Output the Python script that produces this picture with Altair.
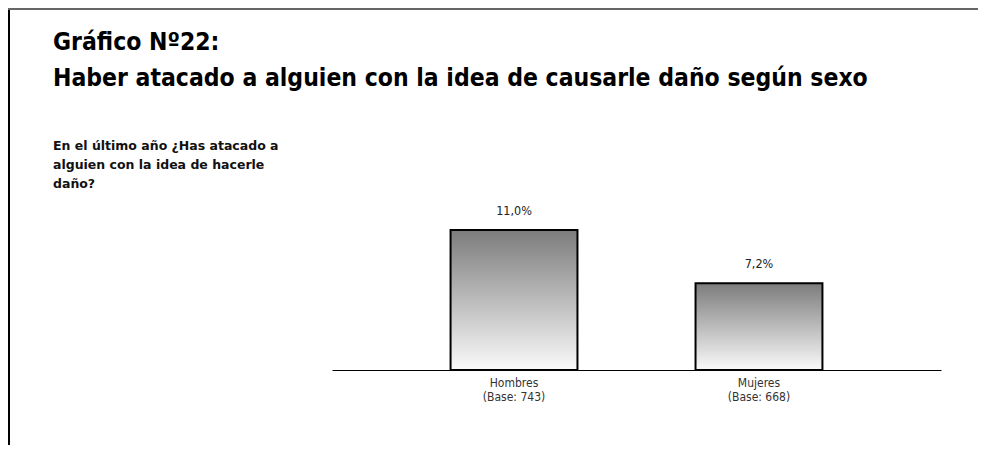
import altair as alt
import pandas as pd

# ---- data ----
categories = ["Hombres\n(Base: 743)", "Mujeres\n(Base: 668)"]
values = [11.0, 7.2]
value_labels = ["11,0%", "7,2%"]
title_lines = ["Gráfico Nº22:", "Haber atacado a alguien con la idea de causarle daño según sexo"]
question_lines = ["En el último año ¿Has atacado a", "alguien con la idea de hacerle", "daño?"]

df = pd.DataFrame({"cat": categories, "val": values, "lab": value_labels})
one = pd.DataFrame({"k": [0]})

W, H = 970, 437
FONT = "DejaVu Sans Condensed, DejaVu Sans, sans-serif"

x_scale = alt.Scale(domain=categories, range=[324, 933], paddingInner=0.482, paddingOuter=0.484)
y_scale = alt.Scale(domain=[1, 11], range=[362, 222])

x_enc = alt.X(
    "cat:N", scale=x_scale, sort=categories,
    axis=alt.Axis(
        title=None, domain=True, domainColor="#000000", domainWidth=1,
        ticks=False, grid=False, labelAngle=0,
        labelExpr="split(datum.label, '\\n')",
        labelFont=FONT, labelFontSize=12, labelColor="#333333",
        labelPadding=7, labelLineHeight=14, offset=-75,
    ),
)

base = alt.Chart(df)

bars = base.mark_bar(
    fill=alt.Gradient(
        gradient="linear",
        stops=[alt.GradientStop(color="#7c7c7c", offset=0),
               alt.GradientStop(color="#fafafa", offset=1)],
        x1=0, x2=0, y1=0, y2=1,
    ),
    stroke="#000000", strokeWidth=2,
).encode(
    x=x_enc,
    y=alt.Y("val:Q", scale=y_scale, axis=None),
    y2=alt.datum(1),
)

labels = base.mark_text(
    baseline="bottom", dy=-12, font=FONT, fontSize=12.5, color="#222222"
).encode(
    x=alt.X("cat:N", scale=x_scale, sort=categories),
    y=alt.Y("val:Q", scale=y_scale),
    text="lab:N",
)

title = alt.Chart(one).mark_text(
    text=title_lines, align="left", baseline="alphabetic", lineHeight=36,
    font=FONT, fontSize=24.5, fontWeight="bold", color="#000000",
).encode(x=alt.value(45), y=alt.value(42))

question = alt.Chart(one).mark_text(
    text=question_lines, align="left", baseline="alphabetic", lineHeight=19,
    font="DejaVu Sans, sans-serif", fontSize=12.5, fontWeight="bold", color="#111111",
).encode(x=alt.value(45), y=alt.value(142))

left_border = alt.Chart(one).mark_rule(color="#000000", strokeWidth=2).encode(
    x=alt.value(1), y=alt.value(0), y2=alt.value(H)
)
top_border = alt.Chart(one).mark_rule(color="#666666", strokeWidth=2).encode(
    x=alt.value(0), x2=alt.value(W), y=alt.value(1)
)

chart = alt.layer(bars, labels, title, question, left_border, top_border).properties(
    width=W, height=H,
    autosize=alt.AutoSizeParams(type="none"),
    padding=0,
    background="#ffffff",
).configure_view(stroke=None)

chart.save("out.html", embed_options={"renderer": "svg", "actions": False})
